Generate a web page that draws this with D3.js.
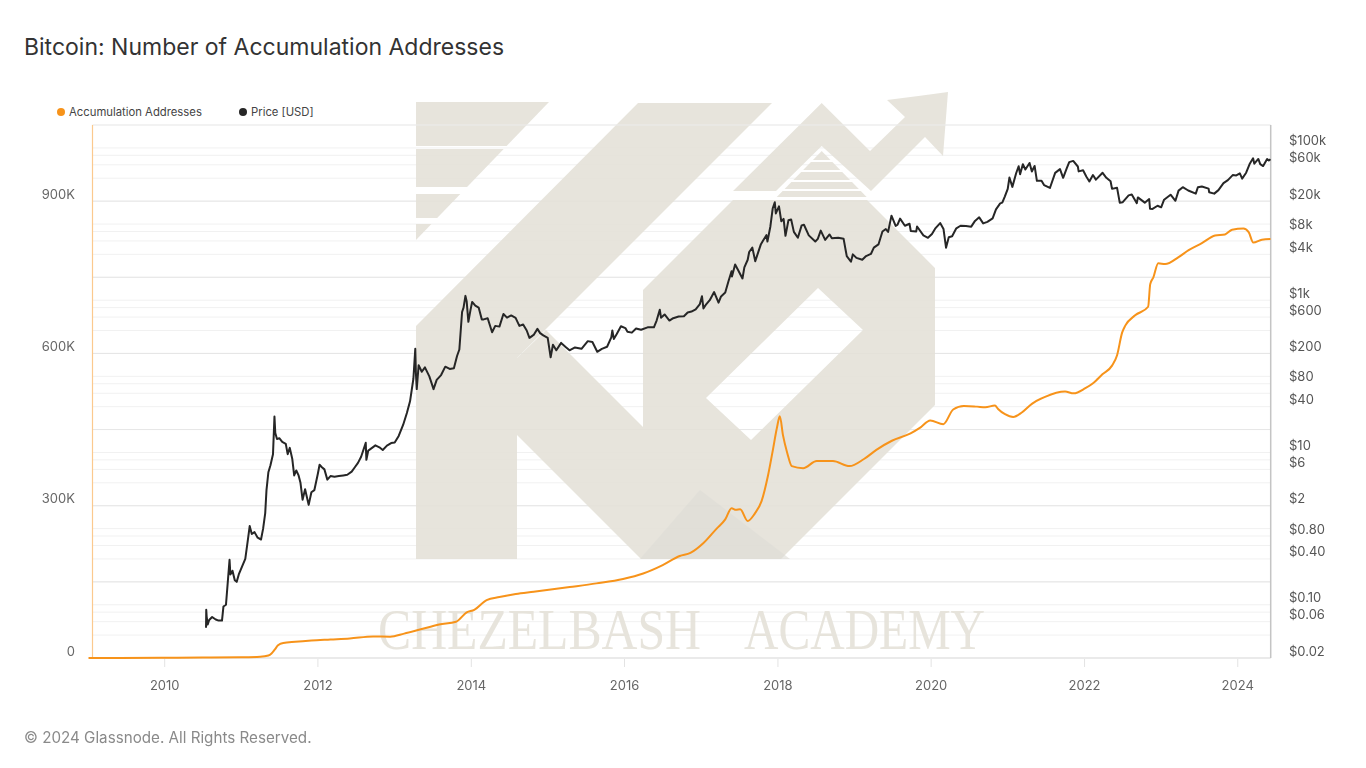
<!DOCTYPE html>
<html><head><meta charset="utf-8">
<script src="https://cdn.jsdelivr.net/npm/d3@7"></script>
<style>
body{margin:0;background:#fff;}
svg{display:block;font-family:Inter,"Noto Sans",sans-serif;}
</style>
</head><body>
<svg id="chart" width="1366" height="768"></svg>
<script>
// ---------------- DATA ----------------
const chartTitle = "Bitcoin: Number of Accumulation Addresses";
const seriesNames = ["Accumulation Addresses", "Price [USD]"];
const seriesColors = ["#f7931a", "#262626"];

const accumulation = [
["2009-01-03",0],["2009-06-01",200],["2010-01-01",600],["2010-07-01",900],["2011-01-01",1500],
["2011-04-01",2500],["2011-05-10",5000],["2011-05-25",9000],["2011-06-10",17000],["2011-06-25",25000],
["2011-07-20",29500],["2011-09-15",32000],["2011-12-01",34500],["2012-03-01",36500],["2012-06-01",38500],
["2012-09-20",42500],["2012-12-10",42000],["2013-02-15",48000],["2013-05-01",56000],["2013-08-01",66000],
["2013-10-20",71500],["2013-12-10",90000],["2014-01-15",95000],["2014-03-15",114000],["2014-05-15",120000],
["2014-08-01",126000],["2014-10-25",130500],["2015-04-15",139800],["2015-08-20",147000],["2015-12-25",155700],
["2016-03-30",166500],["2016-07-01",183000],["2016-09-20",201000],["2016-11-10",207000],["2017-01-10",226000],
["2017-03-15",255000],["2017-04-25",273000],["2017-05-25",295000],["2017-06-15",292000],["2017-07-05",293000],
["2017-08-10",270000],["2017-09-12",284000],["2017-10-15",309000],["2017-11-15",360000],["2017-12-08",410000],
["2017-12-27",453000],["2018-01-10",476000],["2018-01-25",439000],["2018-02-15",403000],["2018-03-08",378000],
["2018-05-01",374000],["2018-07-05",388000],["2018-09-20",388000],["2018-12-08",378000],["2019-02-15",392000],
["2019-04-15",410000],["2019-06-28",428000],["2019-09-25",442500],["2019-11-08",453400],["2019-12-28",468000],
["2020-02-28",460600],["2020-04-15",489500],["2020-06-05",496600],["2020-08-07",495200],["2020-09-15",494000],
["2020-10-31",497400],["2020-11-15",490500],["2020-12-18",480300],["2021-01-26",474800],["2021-03-08",483600],
["2021-04-25",500700],["2021-06-27",514500],["2021-09-30",524900],["2021-11-10",521400],["2022-01-05",531600],
["2022-02-12",541800],["2022-03-27",558900],["2022-05-12",576000],["2022-06-05",596500],["2022-06-29",641000],
["2022-07-14",654700],["2022-08-30",675000],["2022-10-31",692000],["2022-11-10",736500],["2022-11-25",750000],
["2022-12-18",777600],["2023-01-20",776000],["2023-03-25",789700],["2023-05-12",803500],["2023-07-14",817300],
["2023-09-15",832200],["2023-11-01",834200],["2023-12-05",843800],["2024-01-28",846000],["2024-02-22",839000],
["2024-03-15",818400],["2024-04-25",824000],["2024-06-05",825300]
];

const price = [
["2010-07-17",0.05],["2010-07-18",0.086],["2010-07-20",0.07],["2010-07-25",0.055],["2010-08-01",0.063],
["2010-08-15",0.069],["2010-09-01",0.064],["2010-09-15",0.062],["2010-10-01",0.062],["2010-10-08",0.095],
["2010-10-20",0.10],["2010-10-28",0.19],["2010-11-06",0.39],["2010-11-10",0.25],["2010-11-20",0.28],
["2010-12-01",0.21],["2010-12-10",0.20],["2010-12-20",0.25],["2011-01-01",0.30],["2011-01-20",0.40],
["2011-02-01",0.70],["2011-02-10",1.08],["2011-02-20",0.85],["2011-03-05",0.90],["2011-03-20",0.76],
["2011-04-05",0.72],["2011-04-15",1.00],["2011-04-25",1.60],["2011-05-01",3.2],["2011-05-10",5.5],
["2011-05-20",6.8],["2011-06-01",9.5],["2011-06-08",29.6],["2011-06-12",18],["2011-06-20",15],
["2011-07-01",15.4],["2011-07-15",13.8],["2011-08-01",13.0],["2011-08-10",9.5],["2011-08-20",11.5],
["2011-09-01",8.2],["2011-09-10",5.0],["2011-09-20",5.8],["2011-10-01",5.0],["2011-10-10",4.0],
["2011-10-20",2.4],["2011-11-01",3.3],["2011-11-18",2.05],["2011-12-01",3.0],["2011-12-15",3.2],
["2012-01-01",5.3],["2012-01-09",6.9],["2012-01-20",6.4],["2012-02-01",6.0],["2012-02-15",4.4],
["2012-03-01",4.9],["2012-03-20",4.8],["2012-04-10",4.9],["2012-05-01",5.0],["2012-05-20",5.1],
["2012-06-10",5.6],["2012-06-25",6.4],["2012-07-10",7.3],["2012-07-25",8.8],["2012-08-16",13.4],
["2012-08-19",8.0],["2012-08-28",10.6],["2012-09-15",11.5],["2012-10-01",12.4],["2012-10-20",11.7],
["2012-11-05",10.8],["2012-11-25",12.3],["2012-12-15",13.3],["2013-01-01",13.5],["2013-01-20",16.5],
["2013-02-10",23],["2013-02-28",33],["2013-03-15",47],["2013-03-31",93],["2013-04-09",230],
["2013-04-12",110],["2013-04-16",68],["2013-04-25",140],["2013-05-10",115],["2013-05-25",131],
["2013-06-15",100],["2013-07-05",68],["2013-07-20",90],["2013-08-10",104],["2013-08-30",134],
["2013-09-20",125],["2013-10-10",128],["2013-10-25",185],["2013-11-05",225],["2013-11-18",700],
["2013-11-25",800],["2013-12-04",1140],["2013-12-10",960],["2013-12-18",520],["2013-12-28",740],
["2014-01-05",950],["2014-01-20",850],["2014-02-05",800],["2014-02-20",560],["2014-03-01",560],
["2014-03-20",580],["2014-04-10",380],["2014-04-25",460],["2014-05-15",450],["2014-06-03",660],
["2014-06-20",590],["2014-07-10",630],["2014-07-31",585],["2014-08-18",460],["2014-09-05",480],
["2014-09-22",400],["2014-10-05",320],["2014-10-25",350],["2014-11-12",420],["2014-11-25",370],
["2014-12-10",345],["2014-12-31",320],["2015-01-14",178],["2015-01-25",260],["2015-02-10",220],
["2015-03-05",275],["2015-03-25",245],["2015-04-14",220],["2015-05-10",240],["2015-06-10",230],
["2015-07-10",290],["2015-08-01",282],["2015-08-24",210],["2015-09-15",230],["2015-10-10",245],
["2015-10-30",325],["2015-11-04",400],["2015-11-11",310],["2015-11-25",360],["2015-12-15",455],
["2016-01-05",430],["2016-01-15",385],["2016-02-05",375],["2016-02-25",425],["2016-03-20",410],
["2016-04-20",440],["2016-05-20",440],["2016-06-02",540],["2016-06-17",750],["2016-06-23",590],
["2016-07-10",650],["2016-08-02",540],["2016-08-20",580],["2016-09-15",610],["2016-10-10",615],
["2016-10-28",690],["2016-11-15",710],["2016-12-05",760],["2016-12-25",890],["2017-01-04",1130],
["2017-01-11",780],["2017-01-25",890],["2017-02-10",1000],["2017-03-03",1280],["2017-03-24",930],
["2017-04-05",1120],["2017-04-25",1260],["2017-05-10",1760],["2017-05-25",2400],["2017-05-27",2050],
["2017-06-11",2950],["2017-06-25",2500],["2017-07-16",1930],["2017-07-25",2700],["2017-08-10",3400],
["2017-08-17",4300],["2017-09-01",4900],["2017-09-15",3250],["2017-09-30",4350],["2017-10-12",5450],
["2017-10-21",6000],["2017-11-07",7150],["2017-11-12",5900],["2017-11-26",9300],["2017-12-07",16000],
["2017-12-17",19300],["2017-12-22",13800],["2018-01-06",17100],["2018-01-17",10900],["2018-01-28",11700],
["2018-02-06",7000],["2018-02-20",11200],["2018-03-05",11500],["2018-03-18",7900],["2018-04-06",6600],
["2018-04-24",9600],["2018-05-05",9800],["2018-05-28",7100],["2018-06-28",5900],["2018-07-10",6400],
["2018-07-24",8200],["2018-08-14",6200],["2018-09-04",7300],["2018-09-15",6500],["2018-10-15",6600],
["2018-11-10",6400],["2018-11-20",4500],["2018-11-25",3800],["2018-12-15",3200],["2018-12-24",4000],
["2019-01-10",3600],["2019-02-07",3400],["2019-02-25",3800],["2019-03-20",4050],["2019-04-03",4900],
["2019-04-25",5400],["2019-05-14",8000],["2019-05-30",8600],["2019-06-10",7900],["2019-06-26",12900],
["2019-07-16",9450],["2019-07-25",9800],["2019-08-06",11800],["2019-08-29",9500],["2019-09-20",10100],
["2019-09-26",8100],["2019-10-22",8000],["2019-10-26",9300],["2019-11-25",7100],["2019-12-17",6600],
["2020-01-05",7400],["2020-01-20",8700],["2020-02-13",10300],["2020-02-29",8600],["2020-03-12",4900],
["2020-03-25",6700],["2020-04-10",6900],["2020-04-30",8800],["2020-05-20",9500],["2020-06-15",9400],
["2020-07-10",9250],["2020-07-28",11000],["2020-08-17",12250],["2020-09-05",10200],["2020-09-25",10700],
["2020-10-20",11900],["2020-11-05",15600],["2020-11-25",18700],["2020-12-05",19100],["2020-12-17",23000],
["2020-12-31",29000],["2021-01-08",40800],["2021-01-22",30800],["2021-02-09",46500],["2021-02-21",57500],
["2021-02-28",45000],["2021-03-13",61200],["2021-03-25",52000],["2021-04-14",63500],["2021-04-25",49000],
["2021-05-08",58000],["2021-05-19",37000],["2021-06-10",37000],["2021-06-22",32500],["2021-07-20",29800],
["2021-08-14",47000],["2021-09-06",52600],["2021-09-21",40500],["2021-10-08",54000],["2021-10-20",65000],
["2021-11-08",67500],["2021-11-30",57000],["2021-12-04",49200],["2021-12-25",50800],["2022-01-10",41800],
["2022-01-24",36300],["2022-02-10",44000],["2022-02-24",38300],["2022-03-28",47100],["2022-04-15",40500],
["2022-05-05",36500],["2022-05-12",29000],["2022-06-05",29900],["2022-06-18",19000],["2022-07-01",19300],
["2022-07-30",23800],["2022-08-14",24400],["2022-09-07",18800],["2022-09-12",22400],["2022-10-15",19100],
["2022-11-05",21300],["2022-11-09",15900],["2022-11-21",15800],["2022-12-15",17400],["2023-01-01",16600],
["2023-01-15",20900],["2023-02-15",24300],["2023-03-10",20200],["2023-03-25",27500],["2023-04-14",30500],
["2023-05-10",27600],["2023-06-15",25100],["2023-06-25",30500],["2023-07-14",31200],["2023-08-15",29200],
["2023-08-18",26100],["2023-09-11",25100],["2023-10-01",27900],["2023-10-25",34500],["2023-11-15",37800],
["2023-12-08",44000],["2023-12-25",43500],["2024-01-11",46300],["2024-01-22",39500],["2024-02-10",47200],
["2024-02-28",62500],["2024-03-14",73100],["2024-03-20",62000],["2024-04-08",71600],["2024-04-17",61300],
["2024-05-01",57800],["2024-05-20",71400],["2024-05-28",68300],["2024-06-05",71100]
];

const xTickYears = [2010, 2012, 2014, 2016, 2018, 2020, 2022, 2024];
const leftTickValues = [0, 300000, 600000, 900000];
const leftTickLabels = ["0", "300K", "600K", "900K"];
const rightTickValues = [0.02,0.06,0.1,0.4,0.8,2,6,10,40,80,200,600,1000,4000,8000,20000,60000,100000];
const rightTickLabels = ["$0.02","$0.06","$0.10","$0.40","$0.80","$2","$6","$10","$40","$80","$200","$600","$1k","$4k","$8k","$20k","$60k","$100k"];

// ---------------- LAYOUT ----------------
const L = 92.5, R = 1270.7, T = 125, B = 658;
const svg = d3.select("#chart");
const parse = d3.utcParse("%Y-%m-%d");

const x = d3.scaleUtc().domain([parse("2009-01-22"), parse("2024-06-06")]).range([L, R]);
const yL = d3.scaleLinear().domain([0, 1050000]).range([B, T]);
const yR = d3.scaleLog().domain([0.02, 200000]).range([B, T]);

// title
svg.append("text").attr("x", 24).attr("y", 55).attr("font-size", 23).attr("font-weight", 400)
  .attr("fill", "#333").text(chartTitle);

// legend
const lg = svg.append("g");
[[61, 0], [243, 1]].forEach(([lx, i]) => {
  lg.append("circle").attr("cx", lx).attr("cy", 112).attr("r", 4).attr("fill", seriesColors[i]);
  lg.append("text").attr("x", lx + 8).attr("y", 116).attr("font-size", 11.3).attr("fill", "#444").text(seriesNames[i]);
});

// grid: right-axis log grid
const gridR = [];
for (let e = -2; e <= 5; e++) [1,2,4,6,8].forEach(m => { const v = m * Math.pow(10, e); if (v >= 0.02 && v <= 200000) gridR.push(v); });
svg.append("g").selectAll("line").data(gridR).join("line")
  .attr("x1", L).attr("x2", R).attr("y1", d => yR(d)).attr("y2", d => yR(d))
  .attr("stroke", "#f1f1f1").attr("stroke-width", 1);
// left grid every 150K
svg.append("g").selectAll("line").data(d3.range(150000, 1000000, 150000)).join("line")
  .attr("x1", L).attr("x2", R).attr("y1", d => yL(d)).attr("y2", d => yL(d))
  .attr("stroke", "#e6e6e6").attr("stroke-width", 1);

// ---------------- WATERMARK ----------------
const wm = svg.append("g").attr("fill", "#e4e1d8").attr("opacity", 0.88);
const poly = pts => wm.append("polygon").attr("points", pts.map(p => p.join(",")).join(" "));
// striped triangle (top-left)
const hyp = y => 549 - (y - 102) * (133 / 138);
[[102,146],[149,187],[194,218],[224,240]].forEach(([a, b]) => poly([[416,a],[hyp(a),a],[hyp(b),b],[416,b]]));
// K
poly([[416,326],[638,103],[772,103],[517,358],[517,559],[416,559]]);
poly([[517,435],[517,358],[546,330],[775,559],[641,559]]);
// hexagon body with slot
wm.append("path").attr("fill-rule", "evenodd").attr("d",
  "M643,290 L733,200 L867,200 L935,268 L935,405 L781,559 L700,559 L643,502 Z " +
  "M818,288 L863,330 L751,440 L706,398 Z");
// chevron + arrow
poly([[733,191],[821.7,103],[870,151],[905,117],[887,100],[948,92],[943,156],[925,137],[871,191],[821.7,146],[776,191]]);
// small striped triangle inside chevron
const sh = y => (y - 151) * (44 / 45);
[[151,160],[162,170],[172,180],[182,189],[191,197]].forEach(([a, b]) =>
  poly([[821.7 - sh(a), a], [821.7 + sh(a), a], [821.7 + sh(b), b], [821.7 - sh(b), b]]));
// shadow tint at bottom
wm.append("polygon").attr("points", "700,490 790,559 640,559").attr("fill", "#d9d7d1").attr("opacity", 0.6);
wm.append("text").attr("x", 378).attr("y", 649).attr("font-family", "Liberation Serif").attr("font-size", 57)
  .attr("textLength", 323).attr("lengthAdjust", "spacingAndGlyphs").text("CHEZELBASH");
wm.append("text").attr("x", 744).attr("y", 649).attr("font-family", "Liberation Serif").attr("font-size", 57)
  .attr("textLength", 241).attr("lengthAdjust", "spacingAndGlyphs").text("ACADEMY");

// ---------------- AXES ----------------
svg.append("line").attr("x1", L).attr("x2", R).attr("y1", T).attr("y2", T).attr("stroke", "#ececec");
svg.append("line").attr("x1", L).attr("x2", R).attr("y1", B).attr("y2", B).attr("stroke", "#dcdcdc");
svg.append("line").attr("x1", L).attr("x2", L).attr("y1", T).attr("y2", B).attr("stroke", "#fbc98e").attr("stroke-width", 1.2);
svg.append("line").attr("x1", R).attr("x2", R).attr("y1", T).attr("y2", B).attr("stroke", "#c4c4c4").attr("stroke-width", 1.5);

const xa = svg.append("g");
xTickYears.forEach(yr => {
  const xp = x(parse(yr + "-01-01"));
  xa.append("line").attr("x1", xp).attr("x2", xp).attr("y1", B + 1).attr("y2", B + 9).attr("stroke", "#e3e3e3");
  xa.append("text").attr("x", xp).attr("y", 690).attr("text-anchor", "middle").attr("font-size", 13)
    .attr("fill", "#666").text(yr);
});
leftTickValues.forEach((v, i) => {
  svg.append("text").attr("x", 75).attr("y", yL(v) - 2.5).attr("text-anchor", "end").attr("font-size", 13)
    .attr("fill", "#666").text(leftTickLabels[i]);
});
rightTickValues.forEach((v, i) => {
  svg.append("text").attr("x", 1289).attr("y", yR(v) - 2.5).attr("font-size", 13)
    .attr("fill", "#555").text(rightTickLabels[i]);
});

// ---------------- LINES ----------------
const accLine = d3.line().x(d => x(parse(d[0]))).y(d => yL(d[1])).curve(d3.curveMonotoneX);
const priceLine = d3.line().x(d => x(parse(d[0]))).y(d => yR(d[1]));
svg.append("path").datum(accumulation).attr("d", accLine).attr("fill", "none")
  .attr("stroke", seriesColors[0]).attr("stroke-width", 2).attr("stroke-linejoin", "round");
svg.append("path").datum(price).attr("d", priceLine).attr("fill", "none")
  .attr("stroke", seriesColors[1]).attr("stroke-width", 2).attr("stroke-linejoin", "round");

// footer
svg.append("text").attr("x", 24).attr("y", 743).attr("font-size", 15.2).attr("fill", "#8a8a8a")
  .text("© 2024 Glassnode. All Rights Reserved.");
</script>
</body></html>
